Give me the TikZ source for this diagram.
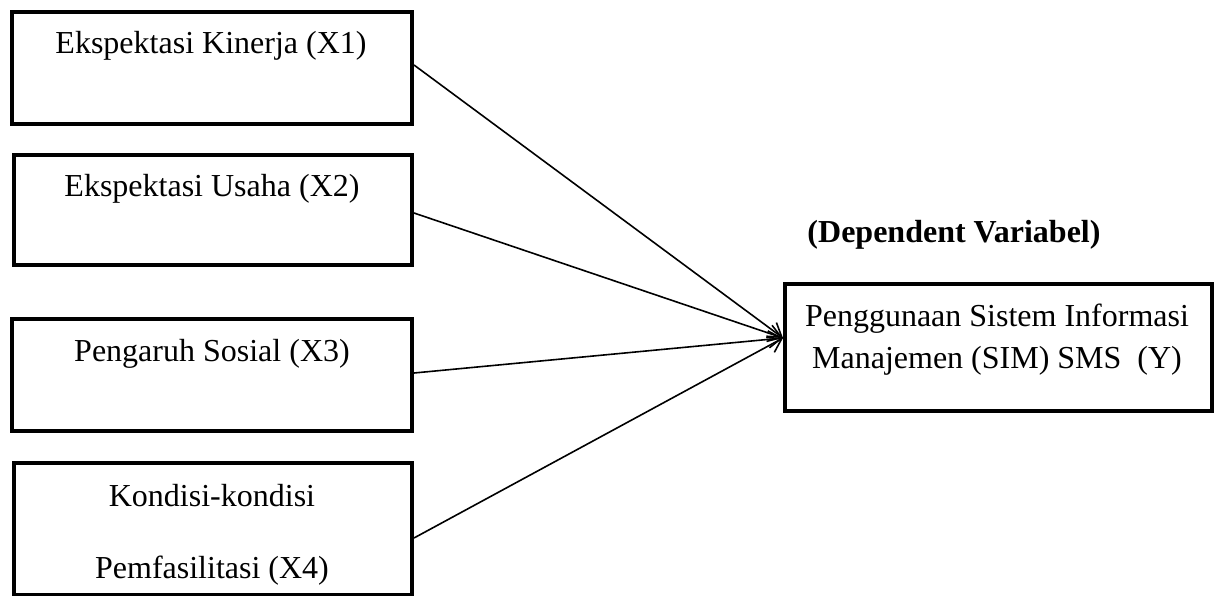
\documentclass[tikz,border=0pt]{standalone}
\usepackage{fontspec}
\setmainfont{Liberation Serif}
\usetikzlibrary{arrows.meta}
\begin{document}
\begin{tikzpicture}[x=1pt,y=-1pt,
  box/.style={draw=black, line width=4pt, rectangle, inner sep=0pt},
  lbl/.style={font=\fontsize{32}{38}\selectfont, inner sep=0pt, anchor=base},
  conn/.style={line width=1.6pt, -{Straight Barb[length=13pt,width=17pt,line width=1.6pt]}}]
\useasboundingbox (0,0) rectangle (1216,596);
\begin{scope}
\clip (0,0) rectangle (1216,596);
% predictor boxes
\node[box, minimum width=400pt, minimum height=112pt] (x1) at (212,68) {};
\node[box, minimum width=398pt, minimum height=110pt] (x2) at (213,210) {};
\node[box, minimum width=400pt, minimum height=112pt] (x3) at (212,375) {};
\node[box, minimum width=398pt, minimum height=132pt] (x4) at (213,529) {};
% dependent box
\node[box, minimum width=427pt, minimum height=127pt] (y) at (998.5,347.5) {};
\end{scope}
% labels
\node[lbl] (t1) at (211,54) {Ekspektasi Kinerja (X1)};
\node[lbl] (t2) at (212,197) {Ekspektasi Usaha (X2)};
\node[lbl] (t3) at (212,361) {Pengaruh Sosial (X3)};
\node[lbl] (t4a) at (212,506) {Kondisi-kondisi};
\node[lbl] (t4b) at (212,578) {Pemfasilitasi (X4)};
\node[lbl] (ty1) at (997,326) {Penggunaan Sistem Informasi};
\node[lbl] (ty2) at (997,368) {Manajemen (SIM) SMS\ \ (Y)};
\node[lbl, font=\fontsize{32}{38}\selectfont\bfseries] (dv) at (954,243) {(Dependent Variabel)};
% connectors
\coordinate (tip) at (783,338);
\draw[conn] (x1.east |- 0,65) -- (tip);
\draw[conn] (x2.east |- 0,213) -- (tip);
\draw[conn] (x3.east |- 0,373) -- (tip);
\draw[conn] (x4.east |- 0,538) -- (tip);
\end{tikzpicture}
\end{document}
